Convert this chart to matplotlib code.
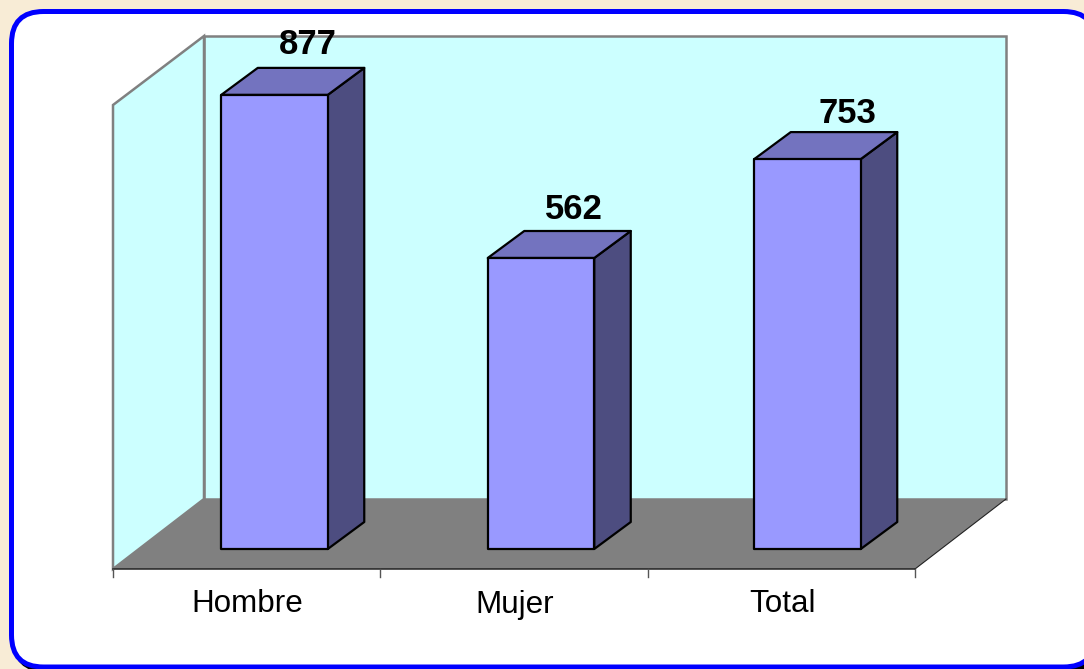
import matplotlib
matplotlib.use("Agg")
from matplotlib import pyplot as plt
from matplotlib.patches import FancyBboxPatch, Polygon

categories = ["Hombre", "Mujer", "Total"]
values = [877, 562, 753]
label_lift = [50, 48, 46]  # px above the bar front top, differs a bit per label
label_shift = [33, 33, 40]  # px right of the bar centre

plt.rcParams["font.family"] = ["Liberation Sans", "DejaVu Sans"]

# layout in pixels of the 1084x669 picture
W, H = 1084, 669
BASE_Y = 549  # front bottom of the bars
PX_PER_UNIT = 0.5178
FIRST_BAR = 274.5
BAR_STEP = 266.5
BAR_W = 106.5
DX, DY = 36.5, 27


def to_x(px):
    return (px - FIRST_BAR) / BAR_STEP


def to_y(py):
    return (BASE_Y - py) / PX_PER_UNIT


def P(*pts):
    return [(to_x(a), to_y(b)) for a, b in pts]


fig = plt.figure(figsize=(W / 100, H / 100), dpi=100, facecolor="#F8ECD6")
ax = fig.add_axes([0, 0, 1, 1])
ax.set_xlim(to_x(0), to_x(W))
ax.set_ylim(to_y(H), to_y(0))
ax.axis("off")

# rounded panel: draw in pixel space on an axes of its own
pad_ax = fig.add_axes([0, 0, 1, 1], zorder=-1)
pad_ax.set_xlim(0, W)
pad_ax.set_ylim(H, 0)
pad_ax.axis("off")
for off, ec in [(3, "black"), (0, "#0000FF")]:
    pad_ax.add_patch(FancyBboxPatch((11.5 + off, 11.5 + off), 1084, 655.5,
                                    boxstyle="round,pad=0,rounding_size=32",
                                    fc="white", ec=ec, lw=3.6))

# walls and floor
ax.add_patch(Polygon(P((204, 36), (1006, 36), (1006, 499), (204, 499)),
                     fc="#CCFFFF", ec="#808080", lw=1.8, zorder=1))
ax.add_patch(Polygon(P((113, 105), (204, 36), (204, 499), (113, 569)),
                     fc="#CCFFFF", ec="#808080", lw=1.8, zorder=1))
ax.add_patch(Polygon(P((113, 569), (204, 499), (1006, 499), (915, 569)),
                     fc="#808080", ec="none", zorder=2))

# front axis line and ticks
ax.plot(*zip(*P((113, 569), (915, 569))), color="#222222", lw=1.1, zorder=3)
ax.plot(*zip(*P((915, 569), (1006, 499))), color="#222222", lw=0.8, zorder=3)
for i in range(len(categories) + 1):
    tx = to_x(113 + i * 267.3)
    ax.plot([tx, tx], [to_y(569), to_y(577)], color="#555555", lw=1.0, zorder=3)
for i, name in enumerate(categories):
    ax.text(to_x(113 + (i + 0.5) * 267.3) + 0.003, to_y(604.5), name, ha="center", va="center",
            fontsize=22.6, color="black")

# 3d bars
half = BAR_W / BAR_STEP / 2
ddx = DX / BAR_STEP
ddy = DY / PX_PER_UNIT
for i, v in enumerate(values):
    l, r = i - half, i + half
    ax.add_patch(Polygon([(r, 0), (r + ddx, ddy), (r + ddx, v + ddy), (r, v)],
                         fc="#4D4D80", ec="black", lw=1.6, joinstyle="round", zorder=4))
    ax.add_patch(Polygon([(l, v), (r, v), (r + ddx, v + ddy), (l + ddx, v + ddy)],
                         fc="#7373BF", ec="black", lw=1.6, joinstyle="round", zorder=4))
    ax.add_patch(Polygon([(l, 0), (r, 0), (r, v), (l, v)],
                         fc="#9999FF", ec="black", lw=1.6, joinstyle="round", zorder=5))
    ax.text(i + label_shift[i] / BAR_STEP, v + label_lift[i] / PX_PER_UNIT, str(v),
            ha="center", va="center", fontsize=25, fontweight="bold", color="black", zorder=6)

fig.savefig("out.png", dpi=100)
